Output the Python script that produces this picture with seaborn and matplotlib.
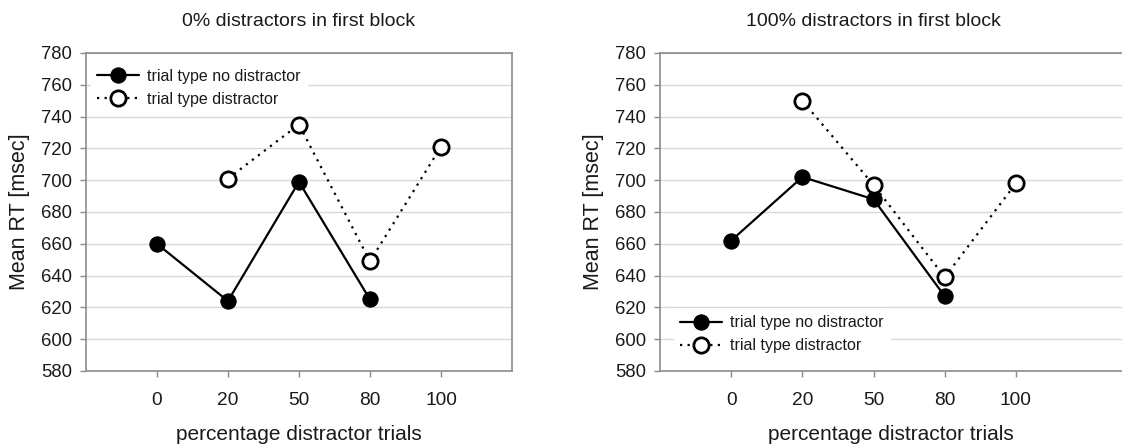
import matplotlib
matplotlib.use("Agg")
import matplotlib.pyplot as plt
import seaborn as sns
import numpy as np

sns.set_style("white")
plt.rcParams['font.family'] = ['Liberation Sans', 'DejaVu Sans']

# percentage of distractor trials (categorical x axis)
categories = ['0', '20', '50', '80', '100']

# panel 1: 0% distractors in first block
left_no_distractor = [660, 624, 699, 625, np.nan]
left_distractor = [np.nan, 701, 735, 649, 721]

# panel 2: 100% distractors in first block
right_no_distractor = [662, 702, 688, 627, np.nan]
right_distractor = [np.nan, 750, 697, 639, 698]

titles = ['0% distractors in first block', '100% distractors in first block']
y_ticks = list(range(580, 781, 20))

GRID = '#d9d9d9'
SPINE = '#8c8c8c'
TEXT = '#1a1a1a'

fig = plt.figure(figsize=(11.22, 4.48), dpi=100)
ax_left = fig.add_axes([0.0766, 0.1719, 0.3797, 0.7098])
ax_right = fig.add_axes([0.5882, 0.1719, 0.4118, 0.7098])

pos = np.arange(len(categories))


def draw_panel(ax, no_dist, dist, title, legend_loc, legend_anchor, xmax):
    sns.lineplot(x=pos, y=no_dist, ax=ax, color='black', linewidth=1.6,
                 marker='o', markersize=11, markerfacecolor='black',
                 markeredgecolor='black', label='trial type no distractor', zorder=3)
    sns.lineplot(x=pos, y=dist, ax=ax, color='black', linewidth=1.6, linestyle=(0, (1, 2.4)),
                 marker='o', markersize=11, markerfacecolor='white', markeredgewidth=2,
                 markeredgecolor='black', label='trial type distractor', zorder=4)

    ax.set_xlim(-1, xmax)
    ax.set_ylim(580, 780)
    ax.set_xticks(pos)
    ax.set_xticklabels(categories)
    ax.set_yticks(y_ticks)
    ax.yaxis.grid(True, color=GRID, linewidth=1)
    ax.xaxis.grid(False)
    ax.set_axisbelow(True)
    for s in ax.spines.values():
        s.set_color(SPINE)
        s.set_linewidth(1.2)
    ax.tick_params(axis='x', which='major', bottom=True, length=4, width=1, color=SPINE,
                   pad=11, labelsize=13.8, labelcolor=TEXT)
    ax.tick_params(axis='y', which='major', left=True, length=4, width=1, color=SPINE,
                   pad=6, labelsize=13.3, labelcolor=TEXT)
    ax.set_xlabel('percentage distractor trials', fontsize=15, color=TEXT, labelpad=12)
    ax.set_ylabel('Mean RT [msec]', fontsize=15.5, color=TEXT, labelpad=8)
    ax.text(2, 1.1, title, transform=ax.get_xaxis_transform(), ha='center', va='center',
            fontsize=14, color=TEXT)

    leg = ax.legend(loc=legend_loc, bbox_to_anchor=legend_anchor, fontsize=11.5,
                    frameon=True, fancybox=False, framealpha=1, facecolor='white',
                    edgecolor='white', handlelength=2.6, handletextpad=0.5,
                    labelspacing=0.5, borderpad=0.4, borderaxespad=0.3)
    for t in leg.get_texts():
        t.set_color(TEXT)
    return ax


draw_panel(ax_left, left_no_distractor, left_distractor, titles[0],
           'upper left', (0.0, 0.985), 5)
draw_panel(ax_right, right_no_distractor, right_distractor, titles[1],
           'lower left', (0.02, 0.02), 5.49)
ax_right.spines['right'].set_visible(False)

fig.savefig('out.png', dpi=100)
